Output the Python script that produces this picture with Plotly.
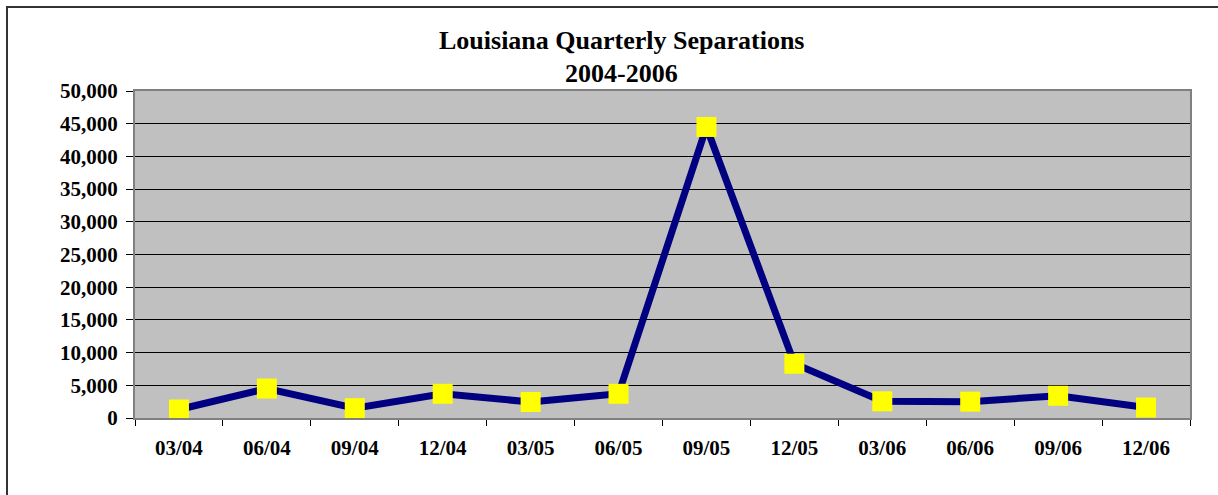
import plotly.graph_objects as go

quarters = ["03/04", "06/04", "09/04", "12/04", "03/05", "06/05",
            "09/05", "12/05", "03/06", "06/06", "09/06", "12/06"]
separations = [1300, 4500, 1500, 3700, 2450, 3700,
               44500, 8300, 2550, 2500, 3400, 1600]
y_ticks = [0, 5000, 10000, 15000, 20000, 25000, 30000, 35000, 40000, 45000, 50000]
y_labels = [f"{v:,}" for v in y_ticks]

FONT = "Liberation Serif, Times New Roman, serif"

W, H = 1218, 495
L, R, T, B = 135, 1190, 91, 418

def px(xp):
    return (xp - L) / (R - L)

def py(yp):
    return (B - yp) / (B - T)

fig = go.Figure()
fig.add_trace(go.Scatter(
    x=quarters, y=separations, mode="lines+markers",
    line=dict(color="#000080", width=7),
    marker=dict(symbol="square", size=20, color="#FFFF00", line=dict(width=0)),
    showlegend=False, cliponaxis=False,
))

fig.update_layout(
    width=W, height=H,
    margin=dict(l=L, r=W - R, t=T, b=H - B),
    paper_bgcolor="white",
    plot_bgcolor="#C0C0C0",
    font=dict(family=FONT, color="black", size=21),
    annotations=[
        dict(text="<b>Louisiana Quarterly Separations</b>", xref="paper", yref="paper",
             x=px(621), y=py(41), xanchor="center", yanchor="middle",
             showarrow=False, font=dict(family=FONT, size=26, color="black")),
        dict(text="<b>2004-2006</b>", xref="paper", yref="paper",
             x=px(621), y=py(73), xanchor="center", yanchor="middle",
             showarrow=False, font=dict(family=FONT, size=26, color="black")),
    ],
    shapes=[
        dict(type="rect", xref="paper", yref="paper",
             x0=px(7), x1=px(1260),
             y0=py(540), y1=py(7),
             line=dict(color="#333333", width=2), fillcolor="rgba(0,0,0,0)", layer="below"),
    ],
)

fig.update_xaxes(
    type="category", categoryorder="array", categoryarray=quarters,
    range=[-0.5, len(quarters) - 0.5],
    tickson="boundaries", ticks="outside", ticklen=6, tickcolor="black", tickwidth=1,
    showline=True, linecolor="#808080", linewidth=2, mirror=True,
    showgrid=False, zeroline=False,
    tickfont=dict(family=FONT, size=21, color="black"),
    tickprefix="<b>", ticksuffix="</b>",
    ticklabelstandoff=10,
)
fig.update_yaxes(
    range=[0, 50000], tickvals=y_ticks, ticktext=[f"<b>{t}</b>" for t in y_labels],
    ticks="outside", ticklen=7, tickcolor="black", tickwidth=1,
    showline=True, linecolor="#808080", linewidth=2, mirror=True,
    showgrid=True, gridcolor="black", gridwidth=1, zeroline=False,
    tickfont=dict(family=FONT, size=21, color="black"),
    ticklabelstandoff=4,
)

fig.write_html(
    "out.html",
    config={"displayModeBar": False},
    post_script="document.body.style.margin='0';document.body.style.overflow='hidden';",
)
